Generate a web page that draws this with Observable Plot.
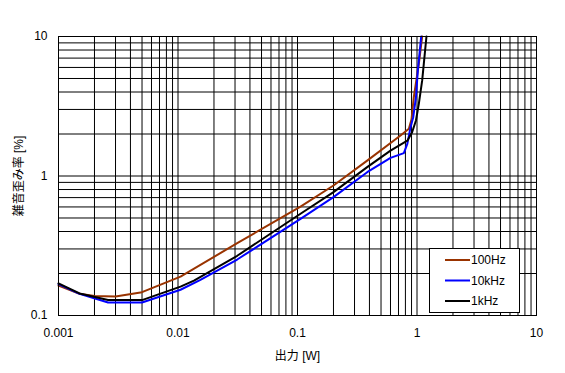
<!DOCTYPE html>
<html><head><meta charset="utf-8">
<script src="https://cdn.jsdelivr.net/npm/d3@7"></script>
<script src="https://cdn.jsdelivr.net/npm/@observablehq/plot@0.6"></script>
<style>
body{margin:0;background:#fff}
#chart{width:565px;height:373px}
</style>
</head><body><div id="chart"></div>
<script>
const seriesNames = ["100Hz", "10kHz", "1kHz"];
const seriesColors = ["#993300", "#0000ff", "#000000"];

const x100Hz = [0.001, 0.0015, 0.002, 0.003, 0.005, 0.0105, 0.0313, 0.106, 0.2, 0.383, 0.728, 0.855, 0.9, 0.94, 1.036, 1.105];
const y100Hz = [0.164, 0.143, 0.138, 0.137, 0.147, 0.19, 0.33, 0.604, 0.855, 1.29, 1.95, 2.18, 2.55, 3.67, 6.37, 10];

const x10kHz = [0.001, 0.0015, 0.0026, 0.005, 0.0105, 0.0154, 0.0313, 0.106, 0.2, 0.383, 0.6, 0.776, 0.83, 0.883, 0.93, 0.98, 1.016, 1.084];
const y10kHz = [0.168, 0.143, 0.124, 0.124, 0.153, 0.18, 0.252, 0.493, 0.705, 1.065, 1.35, 1.46, 1.70, 2.24, 2.64, 3.67, 5.7, 10];

const x1kHz = [0.001, 0.0015, 0.0026, 0.005, 0.0105, 0.0136, 0.0313, 0.106, 0.2, 0.383, 0.6, 0.83, 0.91, 0.98, 1.036, 1.105, 1.14, 1.2];
const y1kHz = [0.17, 0.144, 0.129, 0.129, 0.161, 0.178, 0.268, 0.536, 0.766, 1.157, 1.52, 1.79, 2.06, 2.5, 3.29, 4.84, 6.37, 10];

const xTicks = [0.001, 0.01, 0.1, 1, 10];
const xTickLabels = ["0.001", "0.01", "0.1", "1", "10"];
const yTicks = [0.1, 1, 10];
const yTickLabels = ["0.1", "1", "10"];
const xTitle = "出力 [W]";
const yTitle = "雑音歪み率 [%]";

const seriesX = [x100Hz, x10kHz, x1kHz];
const seriesY = [y100Hz, y10kHz, y1kHz];
const data = [];
seriesNames.forEach((name, i) => {
  seriesX[i].forEach((xv, j) => data.push({series: name, x: xv, y: seriesY[i][j]}));
});

// decade grid lines (1..9 x 10^k)
function logGrid(lo, hi) {
  const out = [];
  for (let k = Math.log10(lo); k < Math.log10(hi); k++)
    for (let m = 1; m <= 9; m++) out.push(m * Math.pow(10, k));
  out.push(hi);
  return out;
}
const xGrid = logGrid(0.001, 10);
const yGrid = logGrid(0.1, 10);

const plot = Plot.plot({
  width: 565,
  height: 373,
  marginLeft: 58,
  marginTop: 36,
  marginRight: 29,
  marginBottom: 58,
  style: {fontFamily: "'Liberation Sans', 'Noto Sans CJK JP', sans-serif", fontSize: "12px", color: "#000", background: "#fff"},
  x: {type: "log", domain: [0.001, 10]},
  y: {type: "log", domain: [0.1, 10]},
  color: {domain: seriesNames, range: seriesColors},
  marks: [
    Plot.ruleX(xGrid, {stroke: "#000", strokeWidth: 1}),
    Plot.ruleY(yGrid, {stroke: "#000", strokeWidth: 1}),
    Plot.axisX({ticks: xTicks, tickFormat: (d) => xTickLabels[xTicks.indexOf(d)], tickSize: 0, tickPadding: 13, label: xTitle, labelAnchor: "center", labelArrow: "none", labelOffset: 44, fontSize: 12}),
    Plot.axisY({ticks: yTicks, tickFormat: (d) => yTickLabels[yTicks.indexOf(d)], tickSize: 0, tickPadding: 11, label: yTitle, labelAnchor: "center", labelArrow: "none", labelOffset: 44, fontSize: 12}),
    Plot.line(data, {x: "x", y: "y", z: "series", stroke: "series", strokeWidth: 2, curve: "linear"}),
    Plot.frame({stroke: "#000", strokeWidth: 1})
  ]
});
document.getElementById("chart").appendChild(plot);

// legend box inside the plot area
const svg = d3.select(plot);
const lg = svg.append("g").attr("font-size", 12).attr("text-anchor", "start");
lg.append("rect").attr("x", 429.5).attr("y", 248.5).attr("width", 90).attr("height", 64)
  .attr("fill", "#fff").attr("stroke", "#000");
seriesNames.forEach((name, i) => {
  const yy = 260 + i * 20.5;
  lg.append("line").attr("x1", 445).attr("x2", 470).attr("y1", yy).attr("y2", yy)
    .attr("stroke", seriesColors[i]).attr("stroke-width", 2);
  lg.append("text").attr("x", 471).attr("y", yy).attr("dy", "0.35em").attr("fill", "#000").text(name);
});
</script>
</body></html>
